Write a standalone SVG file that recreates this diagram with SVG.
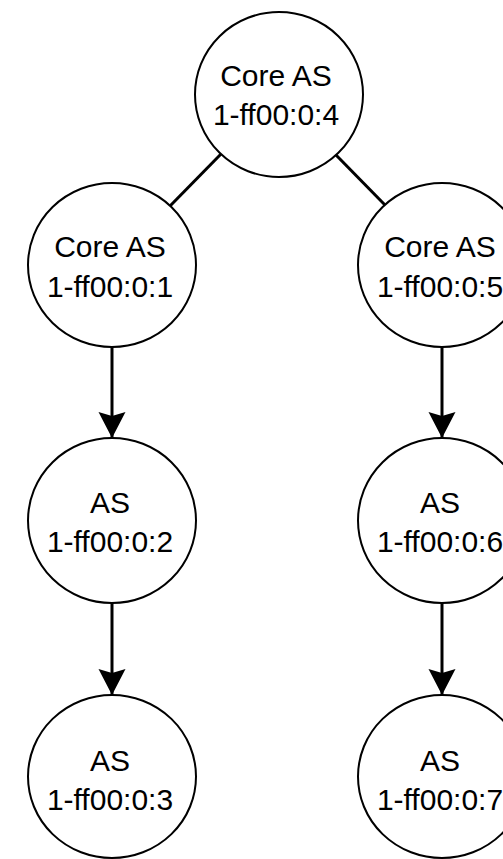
<svg xmlns="http://www.w3.org/2000/svg" width="503" height="859" viewBox="0 0 503 859">
<style>
.node{fill:#ffffff;stroke:#000000;stroke-width:2}
.lbl{font-family:"Liberation Sans",Arial,sans-serif;font-size:30px;fill:#000000;text-anchor:middle}
.edge{stroke:#000000;stroke-width:3;fill:none}
</style>
<defs>
<marker id="arr" markerUnits="userSpaceOnUse" markerWidth="30" markerHeight="30" viewBox="0 0 30 30" refX="27" refY="15" orient="auto">
<path d="M27,15 L1,1.5 L5,15 L1,28.5 Z" fill="#000000"/>
</marker>
</defs>
<rect width="503" height="859" fill="#ffffff"/>
<g id="connectors">
<line class="edge" x1="221" y1="154" x2="170" y2="206"/>
<line class="edge" x1="336" y1="155" x2="385" y2="205"/>
<line class="edge" x1="112" y1="347" x2="112" y2="438" marker-end="url(#arr)"/>
<line class="edge" x1="442" y1="347" x2="442" y2="438" marker-end="url(#arr)"/>
<line class="edge" x1="112" y1="603" x2="112" y2="695" marker-end="url(#arr)"/>
<line class="edge" x1="442" y1="603" x2="442" y2="695" marker-end="url(#arr)"/>
</g>
<g id="node-4">
<ellipse class="node" cx="279" cy="94.5" rx="84" ry="82.5"/>
<text class="lbl" x="276" y="86">Core AS</text>
<text class="lbl" x="276" y="125">1-ff00:0:4</text>
</g>
<g id="node-1">
<ellipse class="node" cx="112" cy="265" rx="84" ry="82"/>
<text class="lbl" x="110" y="257">Core AS</text>
<text class="lbl" x="110" y="297">1-ff00:0:1</text>
</g>
<g id="node-5">
<ellipse class="node" cx="442" cy="265" rx="84" ry="82"/>
<text class="lbl" x="440" y="257">Core AS</text>
<text class="lbl" x="440" y="297">1-ff00:0:5</text>
</g>
<g id="node-2">
<ellipse class="node" cx="112" cy="520.5" rx="84" ry="82.5"/>
<text class="lbl" x="110" y="513">AS</text>
<text class="lbl" x="110" y="552">1-ff00:0:2</text>
</g>
<g id="node-6">
<ellipse class="node" cx="442" cy="520.5" rx="84" ry="82.5"/>
<text class="lbl" x="440" y="513">AS</text>
<text class="lbl" x="440" y="552">1-ff00:0:6</text>
</g>
<g id="node-3">
<ellipse class="node" cx="112" cy="776.5" rx="84" ry="81.5"/>
<text class="lbl" x="110" y="771">AS</text>
<text class="lbl" x="110" y="810">1-ff00:0:3</text>
</g>
<g id="node-7">
<ellipse class="node" cx="442" cy="776.5" rx="84" ry="81.5"/>
<text class="lbl" x="440" y="771">AS</text>
<text class="lbl" x="440" y="810">1-ff00:0:7</text>
</g>
</svg>
